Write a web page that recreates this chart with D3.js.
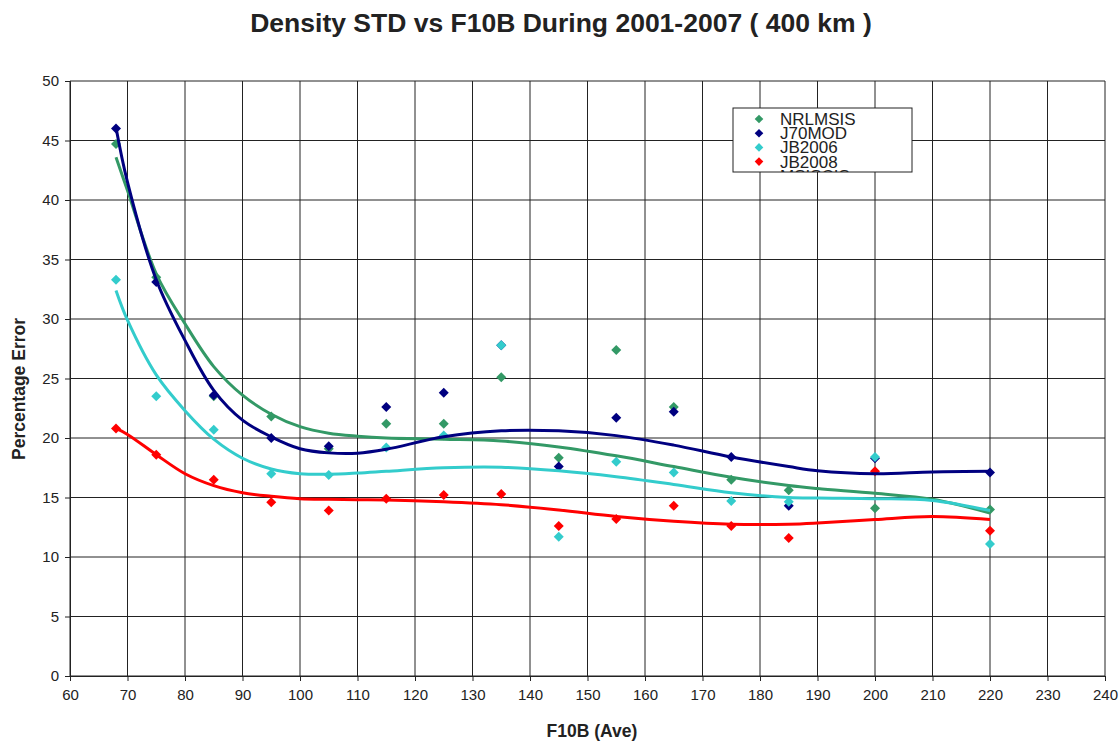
<!DOCTYPE html>
<html><head><meta charset="utf-8">
<script src="https://cdn.jsdelivr.net/npm/d3@7"></script>
<style>body{margin:0;background:#fff}svg{display:block}text{font-family:"Liberation Sans",Arial,sans-serif}</style>
</head><body><svg id="c" width="1120" height="741"></svg>
<script>
// observed points
const f10b = [68,75,85,95,105,115,125,135,145,155,165,175,185,200,220];
const nrlmsis = [44.7,33.5,23.5,21.8,19.1,21.2,21.2,25.1,18.35,27.4,22.6,16.5,15.6,14.1,14.0];
const j70mod  = [46.0,33.1,23.6,20.0,19.3,22.6,23.8,27.8,17.6,21.7,22.2,18.4,14.3,18.3,17.1];
const jb2006  = [33.3,23.5,20.7,17.0,16.9,19.2,20.2,27.8,11.7,18.0,17.1,14.7,14.65,18.4,11.1];
const jb2008  = [20.8,18.6,16.5,14.6,13.9,14.9,15.2,15.3,12.6,13.2,14.3,12.6,11.6,17.2,12.2];
// trendline values
const trendX = [68,70,75,80,85,90,95,100,105,110,115,125,135,145,155,165,175,185,190,200,210,220];
const trendNrlmsis = [43.6,40.8,33.8,29.6,26.0,23.6,22.0,20.95,20.4,20.15,20.0,19.9,19.75,19.25,18.5,17.6,16.7,16.0,15.75,15.35,14.85,13.7];
const trendJ70mod  = [46.1,41.5,33.3,28.2,24.0,21.5,20.1,19.1,18.75,18.72,19.05,20.1,20.6,20.6,20.2,19.4,18.4,17.6,17.25,17.0,17.15,17.2];
const trendJb2006  = [32.4,29.9,25.3,22.3,19.9,18.3,17.4,17.0,16.95,17.05,17.2,17.5,17.55,17.25,16.75,16.1,15.4,15.0,14.95,14.9,14.75,13.9];
const trendJb2008  = [20.8,20.3,18.6,17.0,16.0,15.4,15.1,14.9,14.85,14.82,14.8,14.65,14.4,13.95,13.4,13.0,12.75,12.75,12.85,13.15,13.4,13.15];
const seriesNames = ["NRLMSIS","J70MOD","JB2006","JB2008","MSISCIS"];
const seriesColors = ["#339966","#000080","#33CCCC","#FF0000"];
const xTicks = d3.range(60,241,10);
const yTicks = d3.range(0,51,5);
const titleText = "Density STD vs F10B During 2001-2007 ( 400 km )";
const xLabel = "F10B (Ave)", yLabel = "Percentage Error";

const series = [nrlmsis,j70mod,jb2006,jb2008];
const trends = [trendNrlmsis,trendJ70mod,trendJb2006,trendJb2008];
const svg = d3.select("#c");
const L=70,R=1105,T=81,B=676;
const x = d3.scaleLinear().domain([60,240]).range([L,R]);
const y = d3.scaleLinear().domain([0,50]).range([B,T]);

// grid
const g = svg.append("g");
g.selectAll(".vx").data(xTicks).join("line").attr("x1",d=>x(d)).attr("x2",d=>x(d)).attr("y1",T).attr("y2",B).attr("stroke","#222").attr("stroke-width",1);
g.selectAll(".hy").data(yTicks).join("line").attr("x1",L).attr("x2",R).attr("y1",d=>y(d)).attr("y2",d=>y(d)).attr("stroke","#222").attr("stroke-width",1);

// axes
const xa = svg.append("g").attr("transform",`translate(0,${B})`).call(d3.axisBottom(x).tickValues(xTicks).tickSize(5).tickPadding(8));
const ya = svg.append("g").attr("transform",`translate(${L},0)`).call(d3.axisLeft(y).tickValues(yTicks).tickSize(5).tickPadding(6));
[xa,ya].forEach(a=>{a.select(".domain").attr("stroke","#222");a.selectAll(".tick line").attr("stroke","#222");a.selectAll("text").attr("font-size",15).attr("fill","#222").attr("font-family","Liberation Sans, Arial, sans-serif");});

// markers
const dia = "M0,-5L5,0L0,5L-5,0Z";
series.forEach((vals,i)=>{
  svg.append("g").selectAll("path").data(vals).join("path")
    .attr("d",dia).attr("transform",(d,k)=>`translate(${x(f10b[k])},${y(d)})`).attr("fill",seriesColors[i]);
});
// trendlines
const line = d3.line().x(d=>x(d[0])).y(d=>y(d[1])).curve(d3.curveCatmullRom.alpha(0.5));
trends.forEach((vals,i)=>{
  svg.append("path").attr("d",line(vals.map((v,k)=>[trendX[k],v]))).attr("fill","none").attr("stroke",seriesColors[i]).attr("stroke-width",3);
});

// title & labels
svg.append("text").attr("x",561).attr("y",32).attr("text-anchor","middle").attr("font-size",26.5).attr("font-weight","bold").attr("fill","#222").text(titleText);
svg.append("text").attr("x",592).attr("y",737).attr("text-anchor","middle").attr("font-size",17.5).attr("font-weight","bold").attr("fill","#222").text(xLabel);
svg.append("text").attr("transform","translate(25,389) rotate(-90)").attr("text-anchor","middle").attr("font-size",17.5).attr("font-weight","bold").attr("fill","#222").text(yLabel);

// legend
const lg = svg.append("g");
lg.append("defs").append("clipPath").attr("id","lc").append("rect").attr("x",733).attr("y",108).attr("width",179).attr("height",64);
lg.append("rect").attr("x",733).attr("y",108).attr("width",179).attr("height",64).attr("fill","#fff").attr("stroke","#222").attr("stroke-width",1);
const items = lg.append("g").attr("clip-path","url(#lc)");
seriesNames.forEach((nm,i)=>{
  const yy=119+i*14.2;
  if(i<seriesColors.length) items.append("path").attr("d","M0,-4.3L4.3,0L0,4.3L-4.3,0Z").attr("transform",`translate(759,${yy})`).attr("fill",seriesColors[i]);
  items.append("text").attr("x",780).attr("y",yy+6).attr("font-size",17).attr("fill","#222").text(nm);
});
</script></body></html>
